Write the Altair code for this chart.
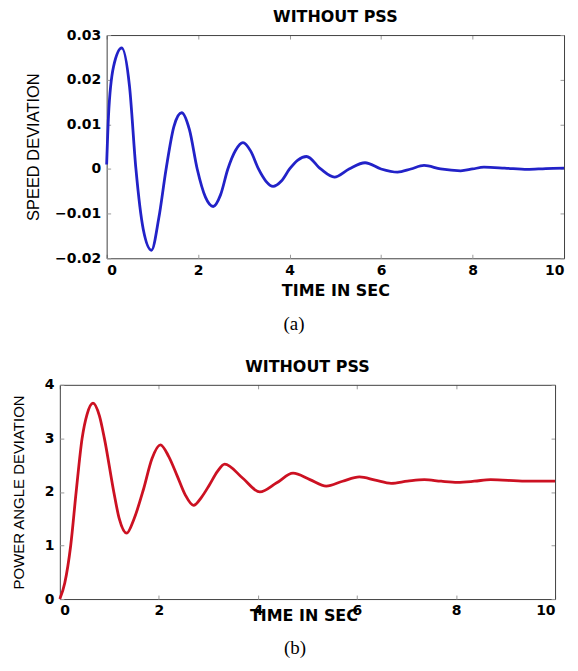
import altair as alt
import pandas as pd

# ---- data ----
time_a = [0.0, 0.04, 0.15, 0.33, 0.5, 0.64, 0.8, 0.98, 1.14, 1.30, 1.47, 1.64, 1.81, 1.98,
          2.16, 2.33, 2.49, 2.65, 2.82, 2.98, 3.15, 3.32, 3.48, 3.64, 3.82, 4.0, 4.18, 4.37,
          4.68, 4.98, 5.3, 5.65, 6.0, 6.36, 6.65, 6.94, 7.3, 7.74, 8.0, 8.25, 8.7, 9.2,
          9.6, 10.0]
speed_dev = [0.001, 0.0118, 0.0229, 0.0271, 0.0185, 0.0, -0.0135, -0.0182, -0.011, 0.0,
             0.0095, 0.0126, 0.0088, 0.0, -0.0063, -0.0084, -0.0058, 0.0, 0.0042, 0.0059,
             0.004, 0.0, -0.0027, -0.0039, -0.0027, 0.0, 0.002, 0.0028, 0.0, -0.0018, 0.0,
             0.0014, 0.0, -0.0007, 0.0, 0.0008, 0.0, -0.0004, 0.0, 0.0004, 0.0002, -0.0001,
             0.0001, 0.0002]

time_b = [0.0, 0.1, 0.22, 0.33, 0.45, 0.55, 0.67, 0.8, 0.9, 1.09, 1.2, 1.35, 1.5, 1.69,
          1.86, 2.03, 2.2, 2.37, 2.53, 2.70, 2.86, 3.02, 3.18, 3.33, 3.69, 4.04, 4.38,
          4.71, 5.05, 5.38, 5.71, 6.05, 6.37, 6.69, 7.02, 7.36, 7.7, 8.03, 8.37, 8.70,
          9.4, 10.0]
angle_dev = [0.0, 0.3, 1.0, 2.0, 3.0, 3.45, 3.66, 3.42, 3.0, 2.0, 1.5, 1.23, 1.5, 2.05,
             2.62, 2.88, 2.66, 2.3, 1.95, 1.75, 1.9, 2.13, 2.38, 2.52, 2.26, 2.0, 2.17,
             2.35, 2.23, 2.11, 2.2, 2.28, 2.22, 2.16, 2.2, 2.23, 2.2, 2.18, 2.2, 2.23,
             2.2, 2.2]

x_ticks = [0, 2, 4, 6, 8, 10]
y_ticks_a = [-0.02, -0.01, 0, 0.01, 0.02, 0.03]
y_ticks_b = [0, 1, 2, 3, 4]

LABEL_FONT = "DejaVu Sans"
YTITLE_FONT = "Liberation Sans"
FRAME = "#404040"
TICKC = "#9a9a9a"


def panel(df, color, ydomain, yticks, width, height, x0, ytitle, ytitle_x, ytitle_size,
          xtitle_y, xtitle_x, caption, cap_x, cap_y, ylabel_expr, title_dx):
    xs = alt.Scale(domain=[0, 10], range=[x0, width], nice=False, zero=False)
    ys = alt.Scale(domain=ydomain, nice=False, zero=False)
    base = alt.Chart(df)
    common = dict(grid=False, labelFont=LABEL_FONT, labelFontSize=14,
                  labelFontWeight="bold", labelColor="black", domainColor=FRAME,
                  domainWidth=1)
    xaxis_kw = dict(orient="bottom", values=x_ticks, ticks=False, labelPadding=5,
                    title="TIME IN SEC", titleFont=LABEL_FONT, titleFontSize=16,
                    titleFontWeight="bold", titleColor="black", titleY=xtitle_y,
                    titleBaseline="middle", **common)
    if xtitle_x is not None:
        xaxis_kw["titleX"] = xtitle_x
    line = base.mark_line(color=color, strokeWidth=2.8, interpolate="monotone").encode(
        x=alt.X("t:Q", scale=xs, axis=alt.Axis(**xaxis_kw)),
        y=alt.Y("v:Q", scale=ys, axis=alt.Axis(
            orient="left", offset=-x0, values=yticks, ticks=False, labelPadding=6,
            labelExpr=ylabel_expr, title=ytitle, titleFont=YTITLE_FONT,
            titleFontSize=ytitle_size, titleFontWeight="normal", titleColor="black",
            titleX=ytitle_x, titleBaseline="middle", **common)),
    )
    tk = dict(grid=False, labels=False, title=None, tickSize=4, tickColor=TICKC,
              tickWidth=1, domainColor=FRAME, domainWidth=1)
    inward1 = base.mark_point(opacity=0).encode(
        x=alt.X("t:Q", scale=xs, axis=alt.Axis(orient="top", offset=-height,
                                               values=x_ticks, domain=False, **tk)),
        y=alt.Y("v:Q", scale=ys, axis=alt.Axis(orient="right", offset=-(width - x0),
                                               values=yticks, domain=False, **tk)),
    )
    inward2 = base.mark_point(opacity=0).encode(
        x=alt.X("t:Q", scale=xs, axis=alt.Axis(orient="bottom", offset=-height,
                                               values=x_ticks, domain=True, **tk)),
        y=alt.Y("v:Q", scale=ys, axis=alt.Axis(orient="left", offset=-width,
                                               values=yticks, domain=True, **tk)),
    )
    cap = alt.Chart(pd.DataFrame({"c": [caption]})).mark_text(
        font="Liberation Serif", fontSize=19, color="black", baseline="middle",
        align="center").encode(text="c:N", x=alt.value(cap_x), y=alt.value(cap_y))
    return alt.layer(line, inward1, inward2, cap).resolve_axis(
        x="independent", y="independent").properties(
        width=width, height=height,
        title=alt.TitleParams("WITHOUT PSS", font=LABEL_FONT, fontSize=16,
                              fontWeight="bold", color="black", anchor="middle",
                              frame="group", dx=title_dx, offset=3))


df_a = pd.DataFrame({"t": time_a, "v": speed_dev})
df_b = pd.DataFrame({"t": time_b, "v": angle_dev})

top = panel(df_a, "#2222c8", [-0.02, 0.03], y_ticks_a, 506, 224, 47,
            "SPEED DEVIATION", -73.5, 16.5, 32, None, "(a)", 235, 290,
            "datum.value == 0 ? '0' : format(datum.value, '.2f')", 23.5)
bottom = panel(df_b, "#cc1122", [0, 4], y_ticks_b, 497, 215, 0,
               "POWER ANGLE DEVIATION", -41.5, 15, 17, 244.5, "(b)", 236, 264,
               "format(datum.value, 'd')", 0)

chart = alt.vconcat(top, bottom, spacing=25).properties(
    padding={"left": 3, "top": 0, "right": 0, "bottom": 0}
).configure_view(stroke=None)

chart.save("out.html", embed_options={"renderer": "svg", "actions": False})
